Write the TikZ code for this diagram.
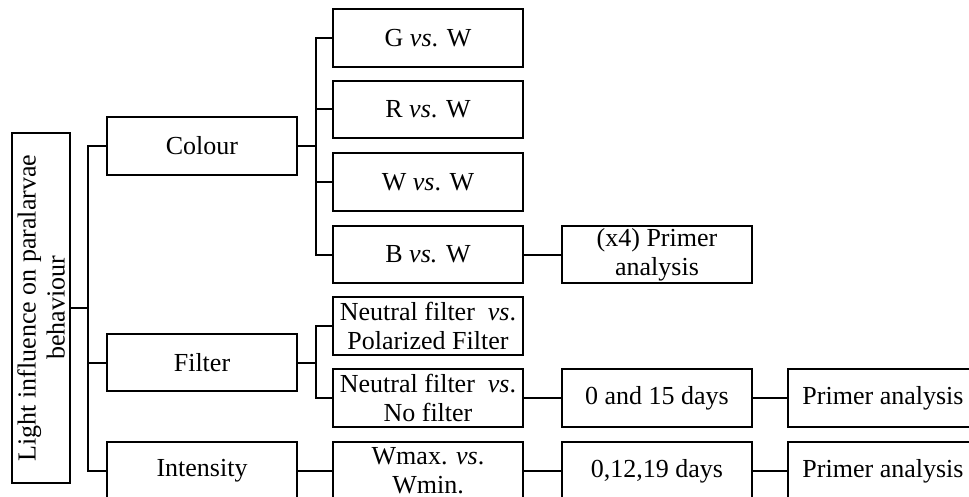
\documentclass[tikz,border=0pt]{standalone}
\usepackage{fontspec}
\setmainfont{Liberation Serif}
\begin{document}
\begin{tikzpicture}[x=1pt,y=-1pt,
  box/.style={draw,line width=2pt,minimum width=190pt,minimum height=58pt,inner sep=0pt,align=center},
  conn/.style={line width=2pt},
  font=\fontsize{26}{29}\selectfont]
\useasboundingbox (0,0) rectangle (969,497);
\clip (0,0) rectangle (969,497);
\node[draw,line width=2pt,rotate=90,minimum width=350pt,minimum height=58pt,inner sep=0pt,align=center] (main) at (41,308) {Light influence on paralarvae\\behaviour};
\node[box] (colour) at (202,146) {Colour};
\node[box,minimum height=57pt] (filter) at (202,362.5) {Filter};
\node[box] (intensity) at (202,471) {Intensity};
\node[box] (G) at (428,38) {G \textit{vs}. W};
\node[box,minimum height=57pt] (R) at (428,109.5) {R \textit{vs}. W};
\node[box] (W) at (428,182) {W \textit{vs}. W};
\node[box,minimum height=57pt] (B) at (428,254.5) {B \textit{vs.} W};
\node[box] (NFP) at (428,326) {Neutral filter\ \ \textit{vs}.\\Polarized Filter};
\node[box] (NFN) at (428,398) {Neutral filter\ \ \textit{vs}.\\No filter};
\node[box] (Wmax) at (428,471) {Wmax. \textit{vs}.\\Wmin.};
\node[box,minimum height=57pt] (x4) at (657,254.5) {(x4) Primer\\analysis};
\node[box] (d015) at (657,398) {0 and 15 days};
\node[box] (d01219) at (657,471) {0,12,19 days};
\node[box] (P1) at (883,398) {Primer analysis};
\node[box] (P2) at (883,471) {Primer analysis};
\coordinate (tA) at (88,0);
\coordinate (tB) at (316,0);
\draw[conn] (main.south) -- (main.south -| tA);
\draw[conn,line width=2.6pt] (colour.west) -- (colour.west -| tA) -- (intensity.west -| tA) -- (intensity.west);
\draw[conn] (filter.west) -- (filter.west -| tA);
\draw[conn] (colour.east) -- (colour.east -| tB);
\draw[conn] (G.west) -- (G.west -| tB) -- (B.west -| tB) -- (B.west);
\draw[conn] (R.west) -- (R.west -| tB);
\draw[conn] (W.west) -- (W.west -| tB);
\draw[conn] (filter.east) -- (filter.east -| tB);
\draw[conn] (NFP.west) -- (NFP.west -| tB) -- (NFN.west -| tB) -- (NFN.west);
\draw[conn] (intensity.east) -- (Wmax.west);
\draw[conn] (B.east) -- (x4.west);
\draw[conn] (NFN.east) -- (d015.west);
\draw[conn] (Wmax.east) -- (d01219.west);
\draw[conn] (d015.east) -- (P1.west);
\draw[conn] (d01219.east) -- (P2.west);
\end{tikzpicture}
\end{document}
